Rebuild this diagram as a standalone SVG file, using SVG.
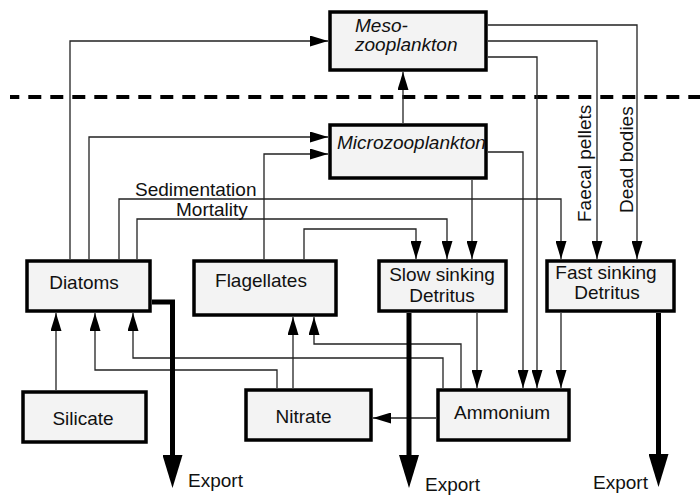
<svg xmlns="http://www.w3.org/2000/svg" width="700" height="496" viewBox="0 0 700 496">
<style>
.box{fill:#f3f3f3;stroke:#000;stroke-width:3.5}
.t{font-family:"Liberation Sans",Arial,sans-serif;font-size:19px;fill:#111}
.m{text-anchor:middle}
.i{font-style:italic}
.c{fill:none;stroke:#222;stroke-width:1.3;marker-end:url(#a)}
.e{fill:none;stroke:#000;stroke-width:5;marker-end:url(#b)}
</style>
<defs>
<marker id="a" markerUnits="userSpaceOnUse" markerWidth="18" markerHeight="11" viewBox="0 0 18 11" refX="18" refY="5.5" orient="auto"><path d="M0,0 L18,5.5 L0,11 z" fill="#000"/></marker>
<marker id="b" markerUnits="userSpaceOnUse" markerWidth="33" markerHeight="20" viewBox="0 0 33 20" refX="0" refY="10" orient="auto"><path d="M0,0 L33,10 L0,20 z" fill="#000"/></marker>
</defs>
<rect width="700" height="496" fill="#fff"/>
<line x1="10" y1="97" x2="700" y2="97" stroke="#000" stroke-width="4" stroke-dasharray="13 9" stroke-dashoffset="3.7"/>
<g id="connectors">
<path class="c" d="M70,259 V41 H328"/>
<path class="c" d="M89,259 V137 H328"/>
<path class="c" d="M264,259 V154 H328"/>
<path class="c" d="M119,259 V199 H561 V259"/>
<path class="c" d="M137,259 V219 H447 V259"/>
<path class="c" d="M304,259 V229 H416 V259"/>
<path class="c" d="M472,180 V259"/>
<path class="c" d="M488,152 H523 V388"/>
<path class="c" d="M488,57 H537 V388"/>
<path class="c" d="M488,41 H597 V259"/>
<path class="c" d="M488,25 H637 V259"/>
<path class="c" d="M403,123 V72"/>
<path class="c" d="M477,313 V388"/>
<path class="c" d="M561,313 V388"/>
<path class="c" d="M436,418 H373"/>
<path class="c" d="M461,388 V344 H314 V317"/>
<path class="c" d="M443,388 V358 H133 V313"/>
<path class="c" d="M277,388 V370 H95 V313"/>
<path class="c" d="M293,388 V317"/>
<path class="c" d="M56,390 V313"/>
<path class="e" d="M152,302 H172.5 V455"/>
<path class="e" d="M409,313 V455"/>
<path class="e" d="M658.5,313 V454"/>
<text class="t" x="135" y="195.5">Sedimentation</text>
<text class="t" x="176" y="216">Mortality</text>
<text class="t" transform="translate(591,222) rotate(-90)">Faecal pellets</text>
<text class="t" transform="translate(633,213) rotate(-90)">Dead bodies</text>
<text class="t" x="188" y="487">Export</text>
<text class="t" x="425" y="491">Export</text>
<text class="t" x="593" y="489">Export</text>
</g>
<g id="meso"><rect class="box" x="330" y="12" width="156" height="58"/><text class="t i" x="355" y="32">Meso-</text><text class="t i" x="355" y="51">zooplankton</text></g>
<g id="micro"><rect class="box" x="330" y="125" width="156" height="53"/><text class="t i" x="337" y="149">Microzooplankton</text></g>
<g id="diatoms"><rect class="box" x="27" y="261" width="123" height="50"/><text class="t m" x="84" y="289">Diatoms</text></g>
<g id="flagellates"><rect class="box" x="194" y="261" width="142" height="54"/><text class="t m" x="261" y="287">Flagellates</text></g>
<g id="slow"><rect class="box" x="379" y="261" width="127" height="50"/><text class="t m" x="442" y="281">Slow sinking</text><text class="t m" x="442" y="301.5">Detritus</text></g>
<g id="fast"><rect class="box" x="547" y="261" width="127" height="50"/><text class="t m" x="606" y="278.5">Fast sinking</text><text class="t m" x="607" y="299">Detritus</text></g>
<g id="silicate"><rect class="box" x="23" y="392" width="123" height="50"/><text class="t m" x="83" y="425">Silicate</text></g>
<g id="nitrate"><rect class="box" x="246" y="390" width="125" height="50"/><text class="t m" x="303.5" y="423">Nitrate</text></g>
<g id="ammonium"><rect class="box" x="438" y="390" width="131" height="50"/><text class="t m" x="502" y="419">Ammonium</text></g>
</svg>
